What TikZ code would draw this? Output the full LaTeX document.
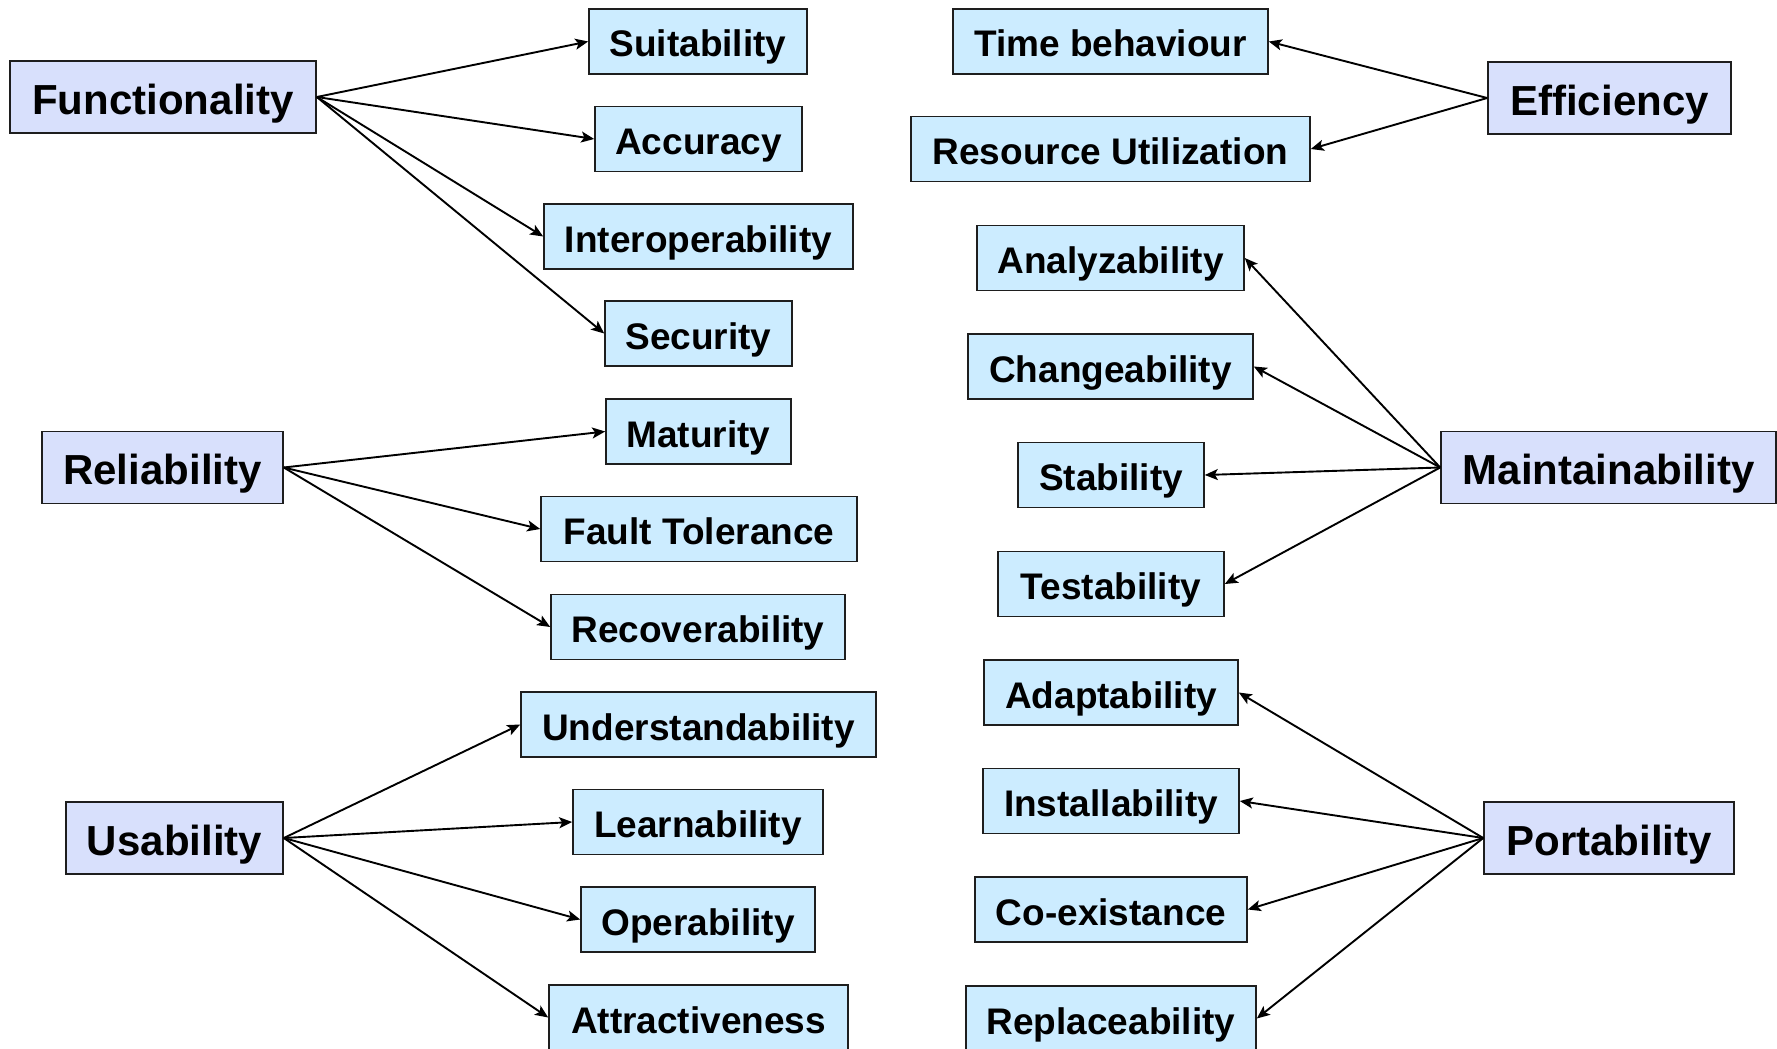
\documentclass[tikz,border=0pt]{standalone}
\usepackage{fontspec}
\setmainfont{Liberation Sans}
\usetikzlibrary{arrows.meta}
\definecolor{mainfill}{RGB}{216,224,252}
\definecolor{subfill}{RGB}{204,236,255}
\definecolor{boxline}{RGB}{30,30,30}
\newcommand{\mainfnt}{\fontsize{42}{42}\selectfont\bfseries}
\newcommand{\subfnt}{\fontsize{37}{37}\selectfont\bfseries}
\tikzset{
  mainbox/.style={draw=boxline, line width=1.6pt, fill=mainfill, font=\mainfnt,
    minimum height=72pt, inner sep=0pt, text height=34pt, text depth=0pt},
  subbox/.style={draw=boxline, line width=1.6pt, fill=subfill, font=\subfnt,
    minimum height=65pt, inner sep=0pt, text height=31pt, text depth=0pt},
  arr/.style={-{Stealth[length=13pt,width=11pt,inset=3pt]}, line width=1.9pt, black}
}
\begin{document}
\begin{tikzpicture}[x=1pt,y=-1pt]
\useasboundingbox (0,0) rectangle (1777,1049);
% main boxes
\node[mainbox, minimum width=306pt] (func) at (163,97) {Functionality};
\node[mainbox, minimum width=241pt] (rel) at (162.5,467.5) {Reliability};
\node[mainbox, minimum width=217pt] (usa) at (174.5,838) {Usability};
\node[mainbox, minimum width=243pt] (eff) at (1609.5,98) {Efficiency};
\node[mainbox, minimum width=335pt] (mai) at (1608.5,467.5) {Maintainability};
\node[mainbox, minimum width=250pt] (por) at (1609,838) {Portability};
% left sub boxes
\node[subbox, minimum width=218pt] (suit) at (698,41.5) {Suitability};
\node[subbox, minimum width=207pt] (acc) at (698.5,139) {Accuracy};
\node[subbox, minimum width=309pt] (inter) at (698.5,236.5) {Interoperability};
\node[subbox, minimum width=187pt] (sec) at (698.5,333.5) {Security};
\node[subbox, minimum width=185pt] (mat) at (698.5,431.5) {Maturity};
\node[subbox, minimum width=316pt] (fault) at (699,529) {Fault Tolerance};
\node[subbox, minimum width=294pt] (rec) at (698,627) {Recoverability};
\node[subbox, minimum width=355pt] (und) at (698.5,724.5) {Understandability};
\node[subbox, minimum width=250pt] (lea) at (698,822) {Learnability};
\node[subbox, minimum width=234pt] (ope) at (698,919.5) {Operability};
\node[subbox, minimum width=299pt] (att) at (698.5,1017.5) {Attractiveness};
% right sub boxes
\node[subbox, minimum width=315pt] (time) at (1110.5,41.5) {Time behaviour};
\node[subbox, minimum width=399pt] (res) at (1110.5,149) {Resource Utilization};
\node[subbox, minimum width=267pt] (ana) at (1110.5,258) {Analyzability};
\node[subbox, minimum width=285pt] (cha) at (1110.5,366.5) {Changeability};
\node[subbox, minimum width=186pt] (sta) at (1111,475) {Stability};
\node[subbox, minimum width=226pt] (tes) at (1111,584) {Testability};
\node[subbox, minimum width=254pt] (ada) at (1111,692.5) {Adaptability};
\node[subbox, minimum width=256pt] (ins) at (1111,801) {Installability};
\node[subbox, minimum width=272pt] (coe) at (1111,909.5) {Co-existance};
\node[subbox, minimum width=290pt] (rep) at (1111,1018.5) {Replaceability};
% connectors
\foreach \t in {suit,acc,inter,sec} \draw[arr] (func.east) -- (\t.west);
\foreach \t in {mat,fault,rec} \draw[arr] (rel.east) -- (\t.west);
\foreach \t in {und,lea,ope,att} \draw[arr] (usa.east) -- (\t.west);
\foreach \t in {time,res} \draw[arr] (eff.west) -- (\t.east);
\foreach \t in {ana,cha,sta,tes} \draw[arr] (mai.west) -- (\t.east);
\foreach \t in {ada,ins,coe,rep} \draw[arr] (por.west) -- (\t.east);
\end{tikzpicture}
\end{document}
